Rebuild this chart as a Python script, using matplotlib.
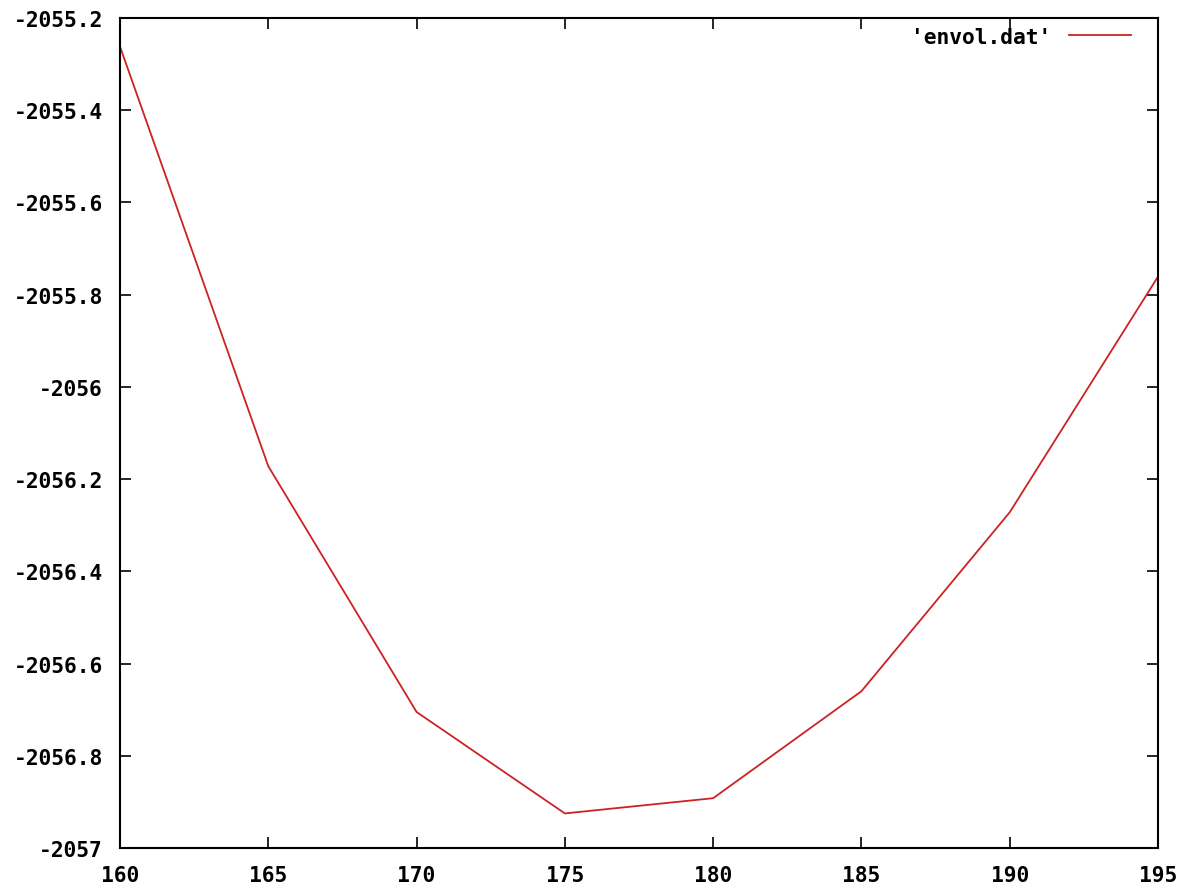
"""Envelope curve from envol.dat, drawn in the old gnuplot look."""

import matplotlib

matplotlib.use("Agg")
import matplotlib.pyplot as plt

# envol.dat
x_values = [160, 165, 170, 175, 180, 185, 190, 195]
y_values = [-2055.262, -2056.172, -2056.705, -2056.925, -2056.892, -2056.660, -2056.272, -2055.761]
series_label = "'envol.dat'"

x_ticks = [160, 165, 170, 175, 180, 185, 190, 195]
y_ticks = [-2057, -2056.8, -2056.6, -2056.4, -2056.2, -2056, -2055.8, -2055.6, -2055.4, -2055.2]
y_tick_labels = ["-2057", "-2056.8", "-2056.6", "-2056.4", "-2056.2",
                 "-2056", "-2055.8", "-2055.6", "-2055.4", "-2055.2"]

LINE_RED = "#cc2222"
FONT = {"family": "DejaVu Sans Mono", "weight": "bold", "size": 15.3}

fig = plt.figure(figsize=(11.84, 8.87), dpi=100)
ax = fig.add_axes([120 / 1184, 1 - 849 / 887, 1038 / 1184, 830 / 887])

ax.plot(x_values, y_values, color=LINE_RED, linewidth=1.3, label=series_label)

ax.set_xlim(160, 195)
ax.set_ylim(-2057, -2055.2)
ax.set_xticks(x_ticks)
ax.set_xticklabels([str(t) for t in x_ticks])
ax.set_yticks(y_ticks)
ax.set_yticklabels(y_tick_labels)

for lbl in ax.get_xticklabels() + ax.get_yticklabels():
    lbl.set_fontfamily(FONT["family"])
    lbl.set_fontweight(FONT["weight"])
    lbl.set_fontsize(FONT["size"])

ax.tick_params(direction="in", length=8, width=1.2, color="black",
               top=True, right=True)
ax.tick_params(axis="y", pad=12.5)
ax.tick_params(axis="x", pad=12.5)
for spine in ax.spines.values():
    spine.set_linewidth(1.5)
    spine.set_color("black")

# key sits in the top-right corner, label first then the line sample
ax.legend(loc="upper right", frameon=False, markerfirst=False,
          handlelength=2.92, handletextpad=0.85, borderaxespad=0.3,
          bbox_to_anchor=(1 - 12 / 1038, 1 + 6 / 830), prop=FONT)

fig.savefig("out.png", dpi=100, facecolor="white")
